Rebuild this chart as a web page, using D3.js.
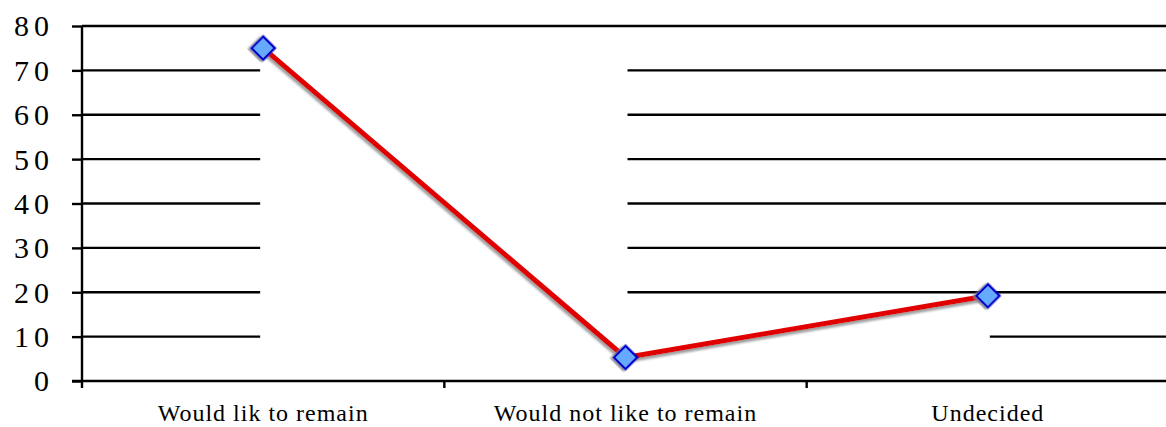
<!DOCTYPE html>
<html>
<head>
<meta charset="utf-8">
<script src="https://cdn.jsdelivr.net/npm/d3@7.9.0/dist/d3.min.js"></script>
<style>
  html, body { margin: 0; padding: 0; background: #fff; }
  svg { display: block; }
  text { font-family: "Liberation Serif", "Times New Roman", serif; fill: #000; }
</style>
</head>
<body>
<svg id="chart" width="1166" height="427"></svg>
<script>
const categories = ['Would lik to remain', 'Would not like to remain', 'Undecided'];
const values = [75, 5.3, 19.2];
const yTicks = [0, 10, 20, 30, 40, 50, 60, 70, 80];

const width = 1166;
const height = 427;
const margin = { top: 26, right: -3, bottom: 46, left: 82 };

const svg = d3.select('#chart');

const defs = svg.append('defs');
const shadow = defs.append('filter')
  .attr('id', 'shadow')
  .attr('x', '-20%').attr('y', '-20%')
  .attr('width', '140%').attr('height', '140%');
shadow.append('feDropShadow')
  .attr('dx', -1).attr('dy', 3)
  .attr('stdDeviation', 1)
  .attr('flood-color', '#888')
  .attr('flood-opacity', 0.8);

const x = d3.scaleBand()
  .domain(categories)
  .range([margin.left, width - margin.right]);

const y = d3.scaleLinear()
  .domain([0, 80])
  .range([height - margin.bottom, margin.top]);

const cx = (d) => x(d) + x.bandwidth() / 2;

// gridlines: the stretch between two neighbouring points hides every line it crosses
const points = categories.map((c, i) => ({ x: cx(c), v: values[i] }));
const stops = [margin.left].concat(points.map((p) => p.x), [width]);
const gridSegs = [];
yTicks.filter((t) => t > 0).forEach((t) => {
  let start = null;
  for (let i = 0; i < stops.length - 1; i++) {
    let hidden = false;
    if (i > 0 && i < points.length) {
      const a = points[i - 1].v;
      const b = points[i].v;
      hidden = t > Math.min(a, b) && t < Math.max(a, b);
    }
    if (!hidden && start === null) start = i === 0 ? stops[i] : stops[i] + 2;
    if (hidden && start !== null) {
      gridSegs.push({ t, x0: start, x1: stops[i] - 3 });
      start = null;
    }
  }
  if (start !== null) gridSegs.push({ t, x0: start, x1: width });
});

svg.append('g')
  .selectAll('line')
  .data(gridSegs)
  .join('line')
  .attr('x1', (d) => d.x0)
  .attr('x2', (d) => d.x1)
  .attr('y1', (d) => y(d.t))
  .attr('y2', (d) => y(d.t))
  .attr('stroke', '#000')
  .attr('stroke-width', 2.4);

// y axis
const yAxis = svg.append('g')
  .attr('transform', `translate(${margin.left},0)`)
  .call(d3.axisLeft(y).tickValues(yTicks).tickSize(10).tickPadding(18).tickFormat(d3.format('d')));
yAxis.select('.domain').attr('stroke', '#000').attr('stroke-width', 2.4)
  .attr('d', `M0,${y(0) + 7}V${y(80)}`);
yAxis.selectAll('.tick line').attr('stroke', '#000').attr('stroke-width', 2.4);
yAxis.selectAll('.tick text')
  .style('font-size', '30px')
  .style('letter-spacing', '5px')
  .attr('dy', '0.33em');

// x axis
const xAxis = svg.append('g')
  .attr('transform', `translate(0,${y(0)})`)
  .call(d3.axisBottom(x).tickSize(0).tickPadding(23));
xAxis.select('.domain').attr('stroke', '#000').attr('stroke-width', 2.4)
  .attr('d', `M${margin.left - 10},0H${width}`);
xAxis.selectAll('.tick text')
  .style('font-size', '24px')
  .style('letter-spacing', '1px');

svg.append('g')
  .selectAll('line')
  .data(categories.slice(1))
  .join('line')
  .attr('x1', (d) => x(d))
  .attr('x2', (d) => x(d))
  .attr('y1', y(0))
  .attr('y2', y(0) + 7)
  .attr('stroke', '#000')
  .attr('stroke-width', 2.4);

// series
const line = d3.line()
  .x((d, i) => cx(categories[i]))
  .y((d) => y(d));

svg.append('path')
  .datum(values)
  .attr('d', line)
  .attr('fill', 'none')
  .attr('stroke', '#e00000')
  .attr('stroke-width', 5)
  .attr('filter', 'url(#shadow)');

svg.append('g')
  .selectAll('path')
  .data(values)
  .join('path')
  .attr('d', d3.symbol().type(d3.symbolSquare).size(270))
  .attr('transform', (d, i) => `translate(${cx(categories[i])},${y(d)}) rotate(45)`)
  .attr('fill', '#66aaff')
  .attr('stroke', '#0000cc')
  .attr('stroke-width', 2.5)
  .attr('filter', 'url(#shadow)');
</script>
</body>
</html>
